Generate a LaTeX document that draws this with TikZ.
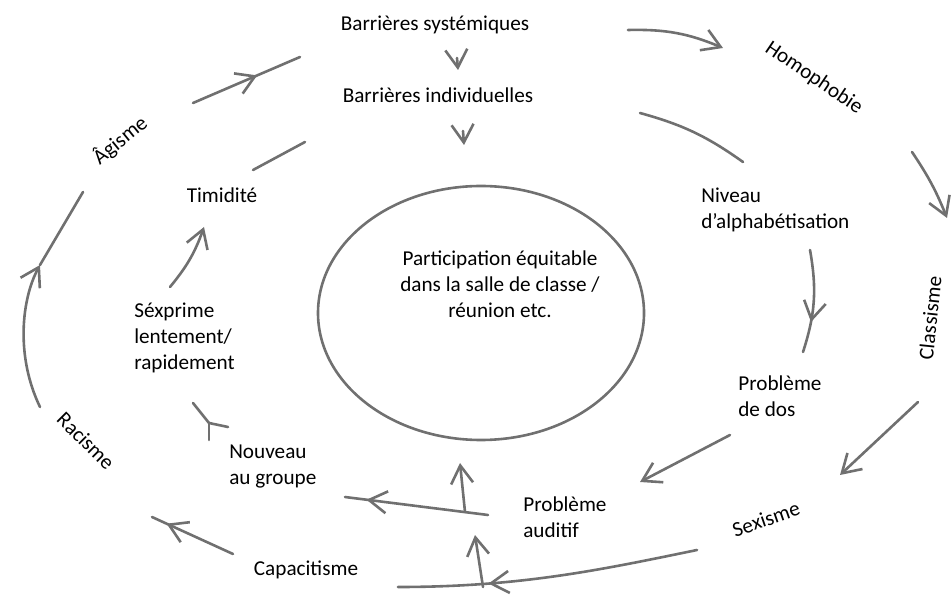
\documentclass[tikz,border=0pt]{standalone}
\usepackage{fontspec}
\setmainfont{Carlito}
\usetikzlibrary{arrows.meta,decorations.markings}
\definecolor{graphite}{RGB}{112,112,112}

\begin{document}
\begin{tikzpicture}[x=0.5pt,y=-0.5pt,line width=1.3pt,line cap=round,
                    >={Straight Barb[length=9pt,width=11pt]}]
  \tikzstyle{every node}=[font=\fontsize{10.6}{13}\selectfont,inner sep=0pt,align=left]
  \tikzstyle{stroke}=[draw=graphite]
  \tikzstyle{every edge}=[draw=graphite]
  \tikzset{mid/.style={postaction={decorate},
           decoration={markings,mark=at position #1 with {\arrow{>}}}}}

  \useasboundingbox (0,0) rectangle (951,597);

  % labels
  \node (bsys) at (435,25) {Barrières systémiques};
  \node (bind) at (438,95) {Barrières individuelles};
  \node[rotate=-34] (homo) at (814,78) {Homophobie};
  \node[anchor=west] (niv) at (700,210) {Niveau\\d’alphabétisation};
  \node[rotate=84] (clas) at (930,318) {Classisme};
  \node[anchor=west] (dos) at (737,396) {Problème\\de dos};
  \node[rotate=19] (sex) at (766,519) {Sexisme};
  \node[anchor=west] (aud) at (522,517) {Problème\\auditif};
  \node (capa) at (306,570) {Capacitisme};
  \node[anchor=west] (nouv) at (228,467) {Nouveau\\au groupe};
  \node[rotate=-45] (rac) at (86,441) {Racisme};
  \node[anchor=west] (sexp) at (133,338) {Séxprime\\lentement/\\rapidement};
  \node (timi) at (222,195) {Timidité};
  \node[rotate=39] (agis) at (120,140) {Âgisme};
  \node[align=center] (part) at (500,284)
       {Participation équitable\\dans la salle de classe /\\réunion etc.};

  \draw[stroke] (481,313) ellipse [x radius=163,y radius=127];

  % outer ring
  \coordinate (o1) at (193,103);  \coordinate (o2) at (300,57);
  \coordinate (o3) at (628,30);   \coordinate (o4) at (723,48);
  \coordinate (o5) at (912,152);  \coordinate (o6) at (947,218);
  \coordinate (o7) at (918,402);  \coordinate (o8) at (840,475);
  \coordinate (o9) at (697,550);  \coordinate (o10) at (398,587);
  \coordinate (o11) at (483,587); \coordinate (o12) at (475,535);
  \coordinate (o13) at (233,554); \coordinate (o14) at (152,517);
  \coordinate (o15) at (40,407);  \coordinate (o16) at (40,265);
  \coordinate (o17) at (83,192);

  \path (o1) edge[mid=0.6] (o2)
        (o3) edge[->,bend left=12] (o4)
        (o5) edge[->,bend left=6] (o6)
        (o7) edge[->] (o8)
        (o11) edge[->] (o12)
        (o13) edge[mid=0.82] (o14)
        (o16) edge (o17)
  ; %end path
  \draw[stroke,mid=0.7] (o9) .. controls (600,570) and (520,587) .. (o10);
  \draw[stroke,->] (o15) .. controls (15,355) and (22,298) .. (o16);

  % inner ring
  \coordinate (i1) at (253,170);  \coordinate (i2) at (305,142);
  \coordinate (i3) at (457,58);   \coordinate (i4) at (458,70);
  \coordinate (i5) at (463,131);  \coordinate (i6) at (464,145);
  \coordinate (i7) at (640,113);  \coordinate (i8) at (743,162);
  \coordinate (i9) at (810,250);  \coordinate (i10) at (803,352);
  \coordinate (i11) at (730,435); \coordinate (i12) at (640,482);
  \coordinate (i13) at (488,515); \coordinate (i14) at (345,497);
  \coordinate (i15) at (465,512); \coordinate (i16) at (460,463);
  \coordinate (i17) at (193,403); \coordinate (i18) at (209,423);
  \coordinate (i19) at (228,427); \coordinate (i20) at (209,440);
  \coordinate (i21) at (170,287); \coordinate (i22) at (204,227);

  \path (i1) edge (i2)
        (i3) edge[->] (i4)
        (i5) edge[->] (i6)
        (i7) edge[bend left=10] (i8)
        (i9) edge[mid=0.7,bend left=14] (i10)
        (i11) edge[->] (i12)
        (i13) edge[mid=0.85] (i14)
        (i15) edge[->] (i16)
        (i17) edge (i18)
        (i18) edge (i19)
        (i18) edge (i20)
        (i21) edge[->,bend right=10] (i22)
  ; %end path

\end{tikzpicture}
\end{document}
